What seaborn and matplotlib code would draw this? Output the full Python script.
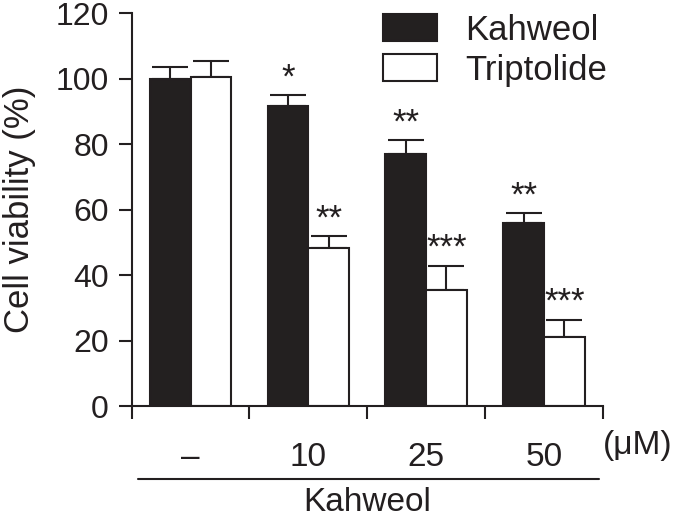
import numpy as np
import pandas as pd
import seaborn as sns
import matplotlib.pyplot as plt

doses = ['–', '10', '25', '50']
kahweol = [100.0, 91.7, 76.9, 56.0]
triptolide = [100.7, 48.2, 35.4, 21.1]
kahweol_err = [3.5, 3.4, 4.4, 2.9]
triptolide_err = [4.9, 3.8, 7.5, 5.3]
kahweol_sig = ['', '*', '**', '**']
triptolide_sig = ['', '**', '***', '***']

sns.set_style('ticks')
plt.rcParams['font.family'] = ['Liberation Sans', 'DejaVu Sans']

df = pd.DataFrame({
    'dose': doses * 2,
    'viability': kahweol + triptolide,
    'treatment': ['Kahweol'] * 4 + ['Triptolide'] * 4,
})

ink = '#231f20'
fig = plt.figure(figsize=(6.75, 5.18), dpi=100)
ax = fig.add_axes([0.195, 0.216, 0.698, 0.758])

sns.barplot(data=df, x='dose', y='viability', hue='treatment',
            palette={'Kahweol': ink, 'Triptolide': 'white'},
            width=0.69, gap=0, errorbar=None, edgecolor=ink,
            linewidth=1.5, ax=ax, zorder=2)

# error bars (upper only) and significance marks
bars = ax.patches[:8]
series = [(kahweol, kahweol_err, kahweol_sig), (triptolide, triptolide_err, triptolide_sig)]
for k, (vals, errs, sig) in enumerate(series):
    for i in range(4):
        p = bars[k * 4 + i]
        xc = p.get_x() + p.get_width() / 2
        ax.errorbar(xc, vals[i], yerr=[[0], [errs[i]]], fmt='none',
                    ecolor=ink, elinewidth=1.5, capsize=13, capthick=1.5, zorder=1)
        if sig[i]:
            ax.text(xc, vals[i] + errs[i] + 0.2, sig[i], ha='center', va='bottom',
                    fontsize=25, color=ink)

ax.set_xlim(-0.5, 3.5)
ax.set_ylim(0, 120)
ax.set_yticks(np.arange(0, 121, 20))
ax.set_xticks([-0.5, 0.5, 1.5, 2.5, 3.5])
ax.set_xticklabels([])
ax.set_xticks(range(4), minor=True)
ax.set_xticklabels(doses, minor=True)
ax.tick_params(axis='x', which='minor', length=0, pad=26, labelsize=24, labelcolor=ink)
ax.tick_params(axis='x', which='major', length=9.5, width=1.5, color=ink)
ax.tick_params(axis='y', length=9.5, width=1.5, labelsize=23, pad=7, color=ink,
               labelcolor=ink)
for s in ['left', 'bottom']:
    ax.spines[s].set_linewidth(1.5)
    ax.spines[s].set_color(ink)
sns.despine(ax=ax)

ax.set_xlabel('')
ax.set_ylabel('Cell viability (%)', fontsize=25, color=ink)
ax.yaxis.set_label_coords(-0.203, 0.5)

ax.text(1.075, -0.1, '(μM)', transform=ax.transAxes, ha='center', va='center',
        fontsize=24, color=ink)
ax.plot([-0.45, 3.47], [-0.186, -0.186], color=ink, lw=1.5,
        transform=ax.get_xaxis_transform(), clip_on=False)
ax.text(1.5, -0.246, 'Kahweol', transform=ax.get_xaxis_transform(),
        ha='center', va='center', fontsize=24, color=ink)

leg = ax.legend(loc='upper left', bbox_to_anchor=(0.505, 1.035), frameon=False,
                fontsize=25, handlelength=1.55, handleheight=0.85, labelspacing=0.2,
                handletextpad=0.8, borderaxespad=0)
for t in leg.get_texts():
    t.set_color(ink)

fig.savefig('out.png', dpi=100)
